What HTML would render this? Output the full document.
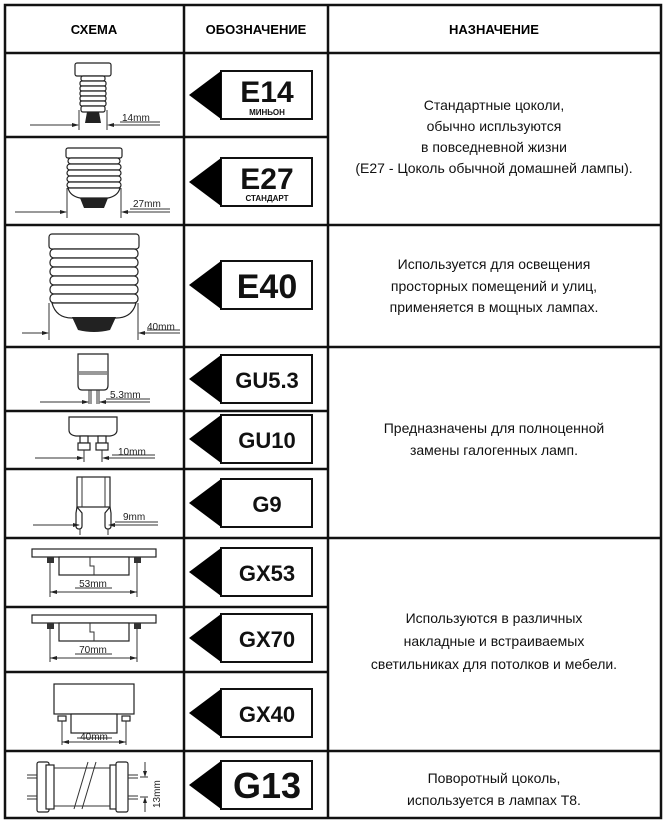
<!DOCTYPE html>
<html><head><meta charset="utf-8"><style>
html,body{margin:0;padding:0;background:#fff;}
svg{display:block}
.h{font-family:"Liberation Sans",sans-serif;font-weight:bold;font-size:13px;text-anchor:middle}
.t{font-family:"Liberation Sans",sans-serif;font-size:14px;text-anchor:middle;fill:#111}
.l{font-family:"Liberation Sans",sans-serif;font-weight:bold;text-anchor:middle;fill:#111}
.m{font-family:"Liberation Sans",sans-serif;font-size:10px;fill:#222}
.d{stroke:#333;stroke-width:1;fill:none}
.s{stroke:#222;stroke-width:1.2;fill:#fff}
</style></head><body>
<svg width="667" height="824" viewBox="0 0 667 824" xmlns="http://www.w3.org/2000/svg">
<g stroke="#111" stroke-width="2.5" fill="none">
<rect x="5" y="5" width="656" height="813"/>
<line x1="184" y1="5" x2="184" y2="818"/><line x1="328" y1="5" x2="328" y2="818"/>
<line x1="5" y1="53" x2="661" y2="53"/>
<line x1="5" y1="137" x2="328" y2="137"/>
<line x1="5" y1="225" x2="661" y2="225"/>
<line x1="5" y1="347" x2="661" y2="347"/>
<line x1="5" y1="411" x2="328" y2="411"/>
<line x1="5" y1="469" x2="328" y2="469"/>
<line x1="5" y1="538" x2="661" y2="538"/>
<line x1="5" y1="607" x2="328" y2="607"/>
<line x1="5" y1="672" x2="328" y2="672"/>
<line x1="5" y1="751" x2="661" y2="751"/>
</g>
<text class="h" x="94" y="34">СХЕМА</text>
<text class="h" x="256" y="34">ОБОЗНАЧЕНИЕ</text>
<text class="h" x="494" y="34">НАЗНАЧЕНИЕ</text>

<g class="t">
<text x="494" y="110">Стандартные цоколи,</text>
<text x="494" y="131">обычно испльзуются</text>
<text x="494" y="152">в повседневной жизни</text>
<text x="494" y="173">(E27 - Цоколь обычной домашней лампы).</text>
<text x="494" y="269">Используется для освещения</text>
<text x="494" y="291">просторных помещений и улиц,</text>
<text x="494" y="312">применяется в мощных лампах.</text>
<text x="494" y="433">Предназначены для полноценной</text>
<text x="494" y="455">замены галогенных ламп.</text>
<text x="494" y="623">Используются в различных</text>
<text x="494" y="646">накладные и встраиваемых</text>
<text x="494" y="669">светильниках для потолков и мебели.</text>
<text x="494" y="783">Поворотный цоколь,</text>
<text x="494" y="805">используется в лампах T8.</text>
</g>

<!-- labels: box x 221..312 -->
<g stroke="#111" stroke-width="2" fill="#fff">
<rect x="221" y="71" width="91" height="48"/>
<rect x="221" y="158" width="91" height="48"/>
<rect x="221" y="261" width="91" height="48"/>
<rect x="221" y="355" width="91" height="48"/>
<rect x="221" y="415" width="91" height="48"/>
<rect x="221" y="479" width="91" height="48"/>
<rect x="221" y="548" width="91" height="48"/>
<rect x="221" y="614" width="91" height="48"/>
<rect x="221" y="689" width="91" height="48"/>
<rect x="221" y="761" width="91" height="48"/>
</g>
<g fill="#000">
<polygon points="189,95 221,71 221,119"/>
<polygon points="189,182 221,158 221,206"/>
<polygon points="189,285 221,261 221,309"/>
<polygon points="189,379 221,355 221,403"/>
<polygon points="189,439 221,415 221,463"/>
<polygon points="189,503 221,479 221,527"/>
<polygon points="189,572 221,548 221,596"/>
<polygon points="189,638 221,614 221,662"/>
<polygon points="189,713 221,689 221,737"/>
<polygon points="189,785 221,761 221,809"/>
</g>
<text class="l" x="267" y="102" font-size="30">E14</text>
<text class="l" x="267" y="115" font-size="8">МИНЬОН</text>
<text class="l" x="267" y="189" font-size="30">E27</text>
<text class="l" x="267" y="201" font-size="8">СТАНДАРТ</text>
<text class="l" x="267" y="298" font-size="34">E40</text>
<text class="l" x="267" y="388" font-size="22">GU5.3</text>
<text class="l" x="267" y="448" font-size="22">GU10</text>
<text class="l" x="267" y="512" font-size="22">G9</text>
<text class="l" x="267" y="581" font-size="22">GX53</text>
<text class="l" x="267" y="647" font-size="22">GX70</text>
<text class="l" x="267" y="722" font-size="22">GX40</text>
<text class="l" x="267" y="798" font-size="36">G13</text>

<!-- E14 -->
<rect class="s" x="75" y="63" width="36" height="13" rx="2"/>
<g class="s"><rect x="81" y="76" width="24" height="5" rx="2"/><rect x="80" y="81" width="26" height="5" rx="2"/><rect x="80" y="86" width="26" height="5" rx="2"/><rect x="80" y="91" width="26" height="5" rx="2"/><rect x="80" y="96" width="26" height="5" rx="2"/><rect x="80" y="101" width="26" height="5" rx="2"/><rect x="81" y="106" width="24" height="6" rx="2"/></g>
<path d="M87 112 L99 112 L101 123 L85 123Z" fill="#222"/>
<path class="d" d="M79 110V130M107 110V130M30 125H78M109 125H160M120 122H160"/>
<polygon points="79,125 72,123 72,127" fill="#222"/><polygon points="107,125 114,123 114,127" fill="#222"/>
<text class="m" x="122" y="121">14mm</text>
<!-- E27 -->
<rect class="s" x="66" y="148" width="56" height="10" rx="2"/>
<g class="s"><rect x="68" y="158" width="52" height="6" rx="3"/><rect x="67" y="164" width="54" height="6" rx="3"/><rect x="67" y="170" width="54" height="6" rx="3"/><rect x="67" y="176" width="54" height="6" rx="3"/><rect x="67" y="182" width="54" height="6" rx="3"/></g>
<path class="s" d="M68 188 Q70 196 80 198 L108 198 Q118 196 120 188Z"/>
<path d="M80 198 L108 198 L104 208 L84 208Z" fill="#222"/>
<path class="d" d="M67 188V218M121 188V218M15 212H66M123 212H170M130 209H170"/>
<polygon points="67,212 60,210 60,214" fill="#222"/><polygon points="121,212 128,210 128,214" fill="#222"/>
<text class="m" x="133" y="207">27mm</text>
<!-- E40 -->
<rect class="s" x="49" y="234" width="90" height="15" rx="3"/>
<g class="s"><rect x="50" y="249" width="88" height="9" rx="4"/><rect x="50" y="258" width="88" height="9" rx="4"/><rect x="50" y="267" width="88" height="9" rx="4"/><rect x="50" y="276" width="88" height="9" rx="4"/><rect x="50" y="285" width="88" height="9" rx="4"/><rect x="50" y="294" width="88" height="9" rx="4"/></g>
<path class="s" d="M52 303 Q56 318 72 318 L116 318 Q132 318 136 303Z"/>
<path d="M72 317 L116 317 L110 330 Q94 334 78 330Z" fill="#222"/>
<path class="d" d="M49 303V340M138 303V340M22 333H48M140 333H180M147 330H180"/>
<polygon points="49,333 42,331 42,335" fill="#222"/><polygon points="138,333 145,331 145,335" fill="#222"/>
<text class="m" x="147" y="330">40mm</text>
<!-- GU5.3 -->
<path class="s" d="M78 354 H108 V385 Q108 390 104 390 H82 Q78 390 78 385Z"/>
<path class="d" d="M79 372H107M79 374H107"/>
<path class="d" d="M89 390V404M91 390V404M97 390V404M99 390V404"/>
<path class="d" d="M40 402H88M100 402H150M106 399H150"/>
<polygon points="89,402 82,400 82,404" fill="#222"/><polygon points="99,402 106,400 106,404" fill="#222"/>
<text class="m" x="110" y="398">5.3mm</text>
<!-- GU10 -->
<path class="s" d="M69 417 H117 V430 Q117 435 110 436 H76 Q69 435 69 430Z"/>
<rect class="s" x="80" y="436" width="8" height="7"/><rect class="s" x="98" y="436" width="8" height="7"/>
<rect class="s" x="78" y="443" width="12" height="7"/><rect class="s" x="96" y="443" width="12" height="7"/>
<path class="d" d="M84 450V462M102 450V462M35 458H83M104 458H155M112 455H155"/>
<polygon points="84,458 77,456 77,460" fill="#222"/><polygon points="102,458 109,456 109,460" fill="#222"/>
<text class="m" x="118" y="455">10mm</text>
<!-- G9 -->
<rect class="s" x="77" y="477" width="33" height="30"/>
<path class="d" d="M82 477V507M105 477V507"/>
<path class="s" d="M77 507 L82 513 V526 Q82 529 79 529 Q76 529 76 526 V513Z"/>
<path class="s" d="M110 507 L105 513 V526 Q105 529 108 529 Q111 529 111 526 V513Z"/>
<path class="d" d="M80 529V535M108 529V535M33 525H79M110 525H158M115 522H158"/>
<polygon points="80,525 73,523 73,527" fill="#222"/><polygon points="108,525 115,523 115,527" fill="#222"/>
<text class="m" x="123" y="520">9mm</text>
<!-- GX53 -->
<rect class="s" x="32" y="549" width="124" height="8"/>
<rect class="s" x="59" y="557" width="70" height="18"/>
<path class="d" d="M90 557V566H94V575"/>
<rect x="47" y="557" width="7" height="6" fill="#333"/><rect x="134" y="557" width="7" height="6" fill="#333"/>
<path class="d" d="M50 563V597M137 563V597M50 592H137M75 588H112"/>
<polygon points="50,592 57,590 57,594" fill="#222"/><polygon points="137,592 130,590 130,594" fill="#222"/>
<text class="m" x="93" y="587" text-anchor="middle" font-size="11">53mm</text>
<!-- GX70 -->
<rect class="s" x="32" y="615" width="124" height="8"/>
<rect class="s" x="59" y="623" width="70" height="18"/>
<path class="d" d="M90 623V632H94V641"/>
<rect x="47" y="623" width="7" height="6" fill="#333"/><rect x="134" y="623" width="7" height="6" fill="#333"/>
<path class="d" d="M50 629V662M137 629V662M50 658H137M75 654H112"/>
<polygon points="50,658 57,656 57,660" fill="#222"/><polygon points="137,658 130,656 130,660" fill="#222"/>
<text class="m" x="93" y="653" text-anchor="middle" font-size="11">70mm</text>
<!-- GX40 -->
<rect class="s" x="54" y="684" width="80" height="30"/>
<rect class="s" x="71" y="714" width="46" height="19"/>
<rect class="s" x="58" y="716" width="8" height="5"/><rect class="s" x="122" y="716" width="8" height="5"/>
<path class="d" d="M62 721V745M126 721V745M62 742H126M77 738H112"/>
<polygon points="62,742 69,740 69,744" fill="#222"/><polygon points="126,742 119,740 119,744" fill="#222"/>
<text class="m" x="94" y="740" text-anchor="middle" font-size="11">40mm</text>
<!-- G13 -->
<rect class="s" x="37" y="762" width="12" height="50" rx="2"/><rect class="s" x="46" y="765" width="8" height="44"/>
<rect class="s" x="110" y="765" width="8" height="44"/><rect class="s" x="116" y="762" width="12" height="50" rx="2"/>
<path class="d" d="M54 768H110M54 806H110M74 809L88 762M82 809L96 762"/>
<path class="d" d="M27 775H37M27 778H37M27 796H37M27 799H37M128 775H138M128 778H138M128 796H138M128 799H138"/>
<path class="d" d="M145 762V776M145 798V812M140 777H148M140 797H148"/>
<polygon points="145,777 143,771 147,771" fill="#222"/><polygon points="145,797 143,803 147,803" fill="#222"/>
<text class="m" transform="translate(160,808) rotate(-90)">13mm</text>
</svg>
</body></html>
